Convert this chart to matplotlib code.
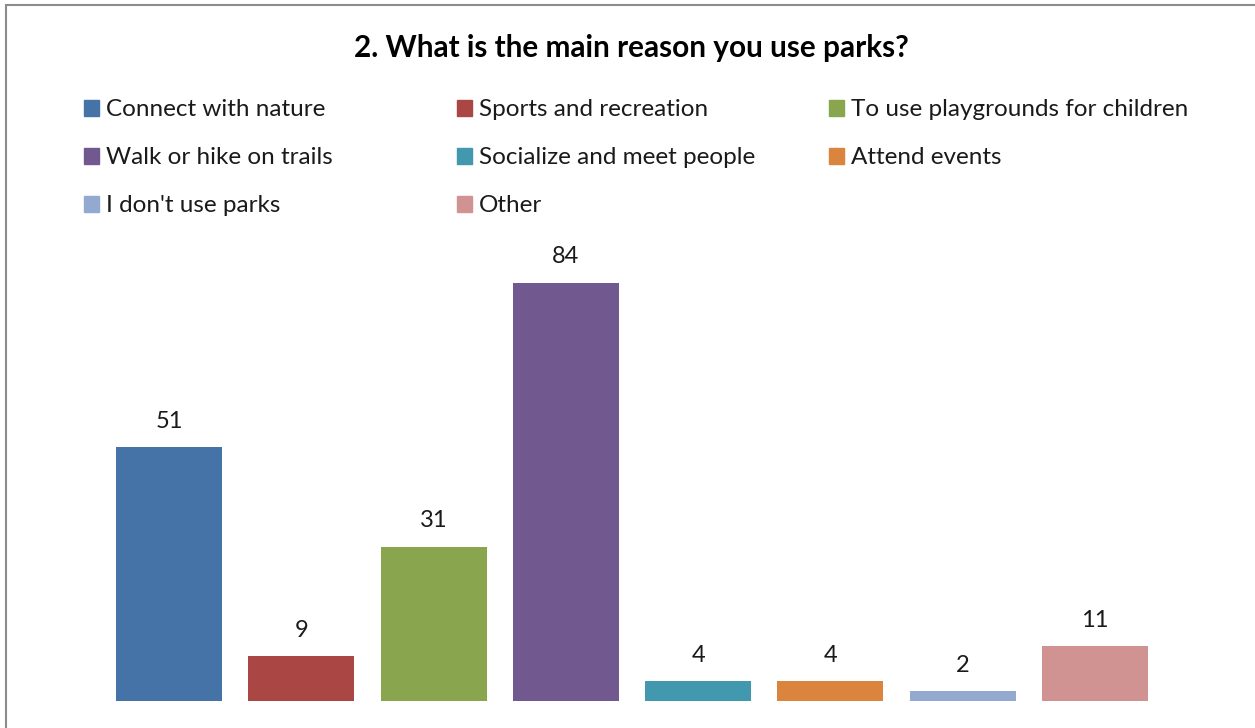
import matplotlib.pyplot as plt
from matplotlib.patches import Rectangle

reasons = [
    "Connect with nature",
    "Sports and recreation",
    "To use playgrounds for children",
    "Walk or hike on trails",
    "Socialize and meet people",
    "Attend events",
    "I don't use parks",
    "Other",
]
counts = [51, 9, 31, 84, 4, 4, 2, 11]
colors = ["#4572A7", "#AA4643", "#89A54E", "#71588F",
          "#4198AF", "#DB843D", "#93A9CF", "#D19392"]

W, H = 1255, 728
fig = plt.figure(figsize=(W / 100, H / 100), dpi=100)
plt.rcParams['font.family'] = ['Lato', 'DejaVu Sans']

# plot area in pixel terms: left 103, right 1161, baseline 701, top 253
ax = fig.add_axes([103 / W, 1 - 701 / H, (1161 - 103) / W, (701 - 253) / H])
for i, (name, val, c) in enumerate(zip(reasons, counts, colors)):
    ax.bar(i, val, width=0.8, color=c, label=name)
    ax.annotate(str(val), (i, val), xytext=(0, 26), textcoords="offset pixels",
                ha="center", va="center", fontsize=17, color="#1a1a1a")
ax.set_xlim(-0.5, len(counts) - 0.5)
ax.set_ylim(0, 90)
ax.axis("off")

# outer chart border (cut off at right and bottom)
fig.add_artist(Rectangle((6 / W, -0.1), 1.2, 1 - 5 / H + 0.1,
                         transform=fig.transFigure, fill=False,
                         edgecolor="#8c8c8c", linewidth=1.5))

fig.text(631 / W, 1 - 48 / H, "2. What is the main reason you use parks?",
         ha="center", va="center", fontsize=21.4, fontweight="bold")

# legend laid out row by row, three columns
col_x = [84, 457, 829]
row_y = [108, 156, 204]
for k, (name, c) in enumerate(zip(reasons, colors)):
    r, col = divmod(k, 3)
    x, y = col_x[col], row_y[r]
    fig.add_artist(Rectangle((x / W, 1 - (y + 7.5) / H), 15 / W, 15 / H,
                             transform=fig.transFigure, color=c))
    fig.text((x + 22) / W, 1 - (y + 2) / H, name, ha="left", va="center",
             fontsize=17.5, color="#1a1a1a")

fig.savefig("out.png", dpi=100)
